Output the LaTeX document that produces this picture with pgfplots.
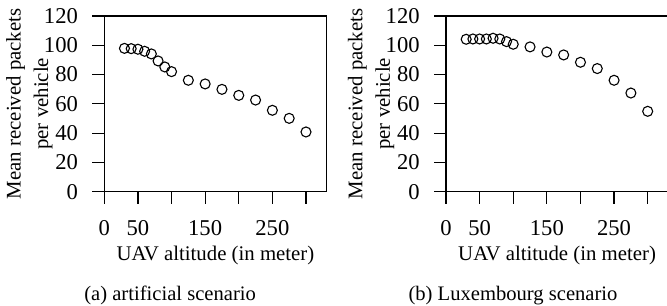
\documentclass[border=0pt]{standalone}
\usepackage{fontspec}
\setmainfont{Liberation Serif}
\usepackage{pgfplots}
\pgfplotsset{compat=1.18}
\usepackage{pgfplotstable}

\pgfplotstableread{
x y
30 97.9
40 97.7
50 97.3
60 95.9
70 94.1
80 89.3
90 85.2
100 82.0
125 76.1
150 73.6
175 69.9
200 65.8
225 62.6
250 55.6
275 50.1
300 40.8
}\dataA

\pgfplotstableread{
x y
30 104.1
40 104.3
50 104.3
60 104.3
70 104.8
80 104.3
90 102.5
100 100.7
125 98.9
150 95.4
175 93.4
200 88.4
225 84.1
250 76.1
275 67.4
300 54.9
}\dataB

\pgfplotsset{
  myaxis/.style={
    scale only axis,
    width=111.1pt, height=87.85pt,
    xmin=0, xmax=330.5, ymin=0, ymax=120,
    axis line style={line width=0.6pt},
    xtick={0,50,100,150,200,250,300},
    xticklabels={0,50,,150,,250,},
    ytick={0,20,40,60,80,100,120},
    tick align=outside,
    major tick length=6pt,
    tick style={black, line width=0.6pt},
    xtick pos=bottom, ytick pos=left,
    tick label style={font=\fontsize{11.3}{13}\selectfont, inner sep=0pt},
    yticklabel style={anchor=east, xshift=-7pt},
    xticklabel style={anchor=base, yshift=-16pt},
    /pgf/number format/assume math mode=true,
    label style={font=\fontsize{10.4}{13.75}\selectfont, inner sep=0pt},
    xlabel={UAV altitude (in meter)},
    xlabel style={at={(axis description cs:0.5,0)}, anchor=base, yshift=-34.15pt},
    ylabel={Mean received packets\\per vehicle},
    ylabel style={at={(axis description cs:-0.2309,0.5)}, anchor=south, align=center},
    clip=false,
  },
}

\begin{document}
\begin{tikzpicture}
\begin{axis}[myaxis, at={(0pt,0pt)}, anchor=origin]
\addplot[only marks, mark=o, mark size=2.5pt, line width=0.55pt, black] table[x=x, y=y] {\dataA};
\end{axis}
\begin{axis}[myaxis, at={(170.85pt,0pt)}, anchor=origin]
\addplot[only marks, mark=o, mark size=2.5pt, line width=0.55pt, black] table[x=x, y=y] {\dataB};
\end{axis}
\node[anchor=base, inner sep=0pt, font=\fontsize{10.3}{13}\selectfont] at (32.9pt,-54.4pt) {(a) artificial scenario};
\node[anchor=base, inner sep=0pt, font=\fontsize{10.3}{13}\selectfont] at (204.35pt,-54.4pt) {(b) Luxembourg scenario};
\pgfresetboundingbox
\path[use as bounding box] (-52.15pt,95.85pt) rectangle (281.35pt,-56.65pt);
\end{tikzpicture}
\end{document}
